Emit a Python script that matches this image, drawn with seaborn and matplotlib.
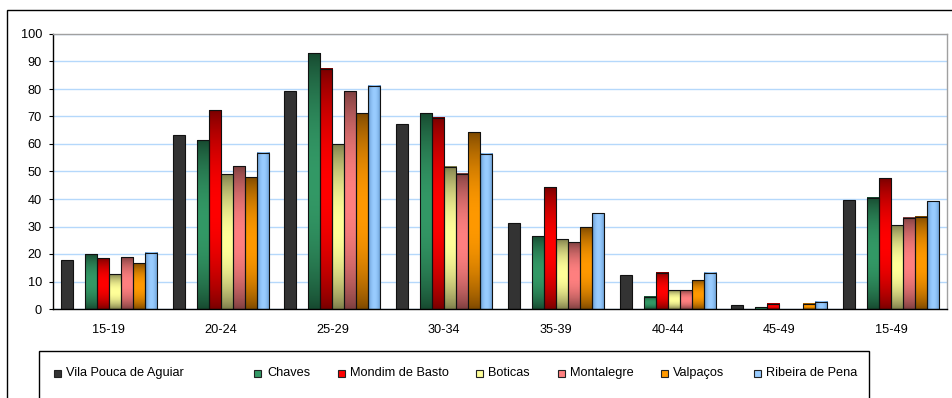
import numpy as np
import pandas as pd
import matplotlib
matplotlib.use("Agg")
import matplotlib.pyplot as plt
import seaborn as sns
from matplotlib.patches import Rectangle
from matplotlib.colors import to_rgb

# ---------------- data ----------------
categories = ["15-19", "20-24", "25-29", "30-34", "35-39", "40-44", "45-49", "15-49"]
series_names = ["Vila Pouca de Aguiar", "Chaves", "Mondim de Basto", "Boticas",
                "Montalegre", "Valpaços", "Ribeira de Pena"]
vila = [17.8, 63.4, 79.1, 67.3, 31.2, 12.2, 1.5, 39.6]
chaves = [20.0, 61.3, 93.0, 71.2, 26.5, 4.5, 0.7, 40.4]
mondim = [18.5, 72.3, 87.4, 69.6, 44.3, 13.1, 1.9, 47.6]
boticas = [12.7, 49.0, 59.9, 51.8, 25.4, 6.9, 0.0, 30.4]
montalegre = [18.9, 51.9, 79.2, 49.2, 24.3, 6.9, 0.0, 33.1]
valpacos = [16.6, 47.9, 71.2, 64.3, 29.7, 10.5, 1.9, 33.5]
ribeira = [20.5, 56.9, 81.2, 56.5, 34.9, 13.1, 2.7, 39.2]
series_values = [vila, chaves, mondim, boticas, montalegre, valpacos, ribeira]

# empty slot between first series and the others (as in the original chart)
gap_name = " "
gap_values = [0.0] * len(categories)

base_colors = ["#333333", "#339966", "#ff0000", "#ffff99", "#ff8080", "#ff9900", "#99ccff"]
dark_colors = ["#333333", "#174a30", "#7a0000", "#7f7f4c", "#7f4040", "#7f4a00", "#5b8fc6"]

# ---------------- style ----------------
sns.set_style("white")
plt.rcParams["font.family"] = ["Liberation Sans", "DejaVu Sans"]

rows = []
for name, vals in [(series_names[0], series_values[0]), (gap_name, gap_values)] + \
        list(zip(series_names[1:], series_values[1:])):
    for c, v in zip(categories, vals):
        rows.append({"cat": c, "val": v, "series": name})
df = pd.DataFrame(rows)

hue_order = [series_names[0], gap_name] + series_names[1:]
palette = {n: c for n, c in zip(series_names, base_colors)}
palette[gap_name] = "#ffffff"

W, H = 952, 398
fig = plt.figure(figsize=(W / 100, H / 100), dpi=100)
ax = fig.add_axes([53 / W, (H - 309) / H, (947 - 53) / W, (309 - 34) / H])

sns.barplot(data=df, x="cat", y="val", hue="series", order=categories,
            hue_order=hue_order, palette=palette, width=0.86, dodge=True,
            saturation=1, edgecolor="#111111", linewidth=0.8, errorbar=None,
            legend=False, ax=ax)

# gradient fills (dark - light - dark) on each bar
grad = {}
for n, b, d in zip(series_names, base_colors, dark_colors):
    grad[n] = (np.array(to_rgb(d)), np.array(to_rgb(b)))

present = [h for h in hue_order if h in df["series"].unique()]
t = np.linspace(0, 1, 80)
prof = np.sin(np.pi * t) ** 0.8
for cont, name in zip(ax.containers, present):
    for bar in cont:
        h = bar.get_height()
        if name == gap_name or h <= 0:
            bar.set_linewidth(0)
            bar.set_facecolor("none")
            continue
        if name == series_names[0]:
            continue
        d, l = grad[name]
        cols = d[None, :] + (l - d)[None, :] * prof[:, None]
        if name == "Ribeira de Pena":
            img = cols[None, :, :]
        else:
            img = cols[:, None, :]
        x0, y0, w = bar.get_x(), bar.get_y(), bar.get_width()
        ax.imshow(img, extent=[x0, x0 + w, y0, y0 + h], aspect="auto",
                  interpolation="bilinear", zorder=1.5, origin="lower")
        bar.set_facecolor("none")
        bar.set_zorder(2)

# ---------------- axes ----------------
ax.set_xlim(-0.5, len(categories) - 0.5)
ax.set_ylim(0, 100)
ax.set_yticks(np.arange(0, 101, 10))
ax.set_xticks(np.arange(len(categories)))
ax.set_xticklabels(categories)
ax.set_xticks(np.arange(-0.5, len(categories), 1), minor=True)
ax.set_xlabel("")
ax.set_ylabel("")
ax.yaxis.grid(True, color="#b5d8fb", linewidth=1.0)
ax.xaxis.grid(False)
ax.set_axisbelow(True)
ax.tick_params(axis="x", which="major", length=0, pad=10.5, labelsize=9.2, colors="black")
ax.tick_params(axis="x", which="minor", length=4, width=0.8, direction="out", color="black")
ax.tick_params(axis="y", which="major", left=True, length=3, width=0.8, pad=5,
               labelsize=9.2, colors="black")
for s in ["left", "bottom"]:
    ax.spines[s].set_color("black")
    ax.spines[s].set_linewidth(1.0)
for s in ["top", "right"]:
    ax.spines[s].set_color("#a0a0a0")
    ax.spines[s].set_linewidth(1.0)

# ---------------- chart border & legend ----------------
fig.patches.append(Rectangle((7 / W, -0.2), 1.2, (H - 10) / H + 0.2,
                             transform=fig.transFigure, fill=False,
                             edgecolor="black", linewidth=1.0))
fig.patches.append(Rectangle((39 / W, -0.2), (869 - 39) / W, (H - 351) / H + 0.2,
                             transform=fig.transFigure, fill=False,
                             edgecolor="black", linewidth=1.0))

leg_pos = [(54, 66), (254, 267), (338, 350), (476, 488), (558, 570), (661, 673), (754, 766)]
ly = 373
for (mx, tx), name, col in zip(leg_pos, series_names, base_colors):
    fig.patches.append(Rectangle((mx / W, (H - ly - 3.5) / H), 7 / W, 7 / H,
                                 transform=fig.transFigure, facecolor=col,
                                 edgecolor="#222222", linewidth=0.8))
    fig.text(tx / W, (H - ly) / H, name, fontsize=9.2, va="center", ha="left",
             color="black")

fig.savefig("out.png", dpi=100)
